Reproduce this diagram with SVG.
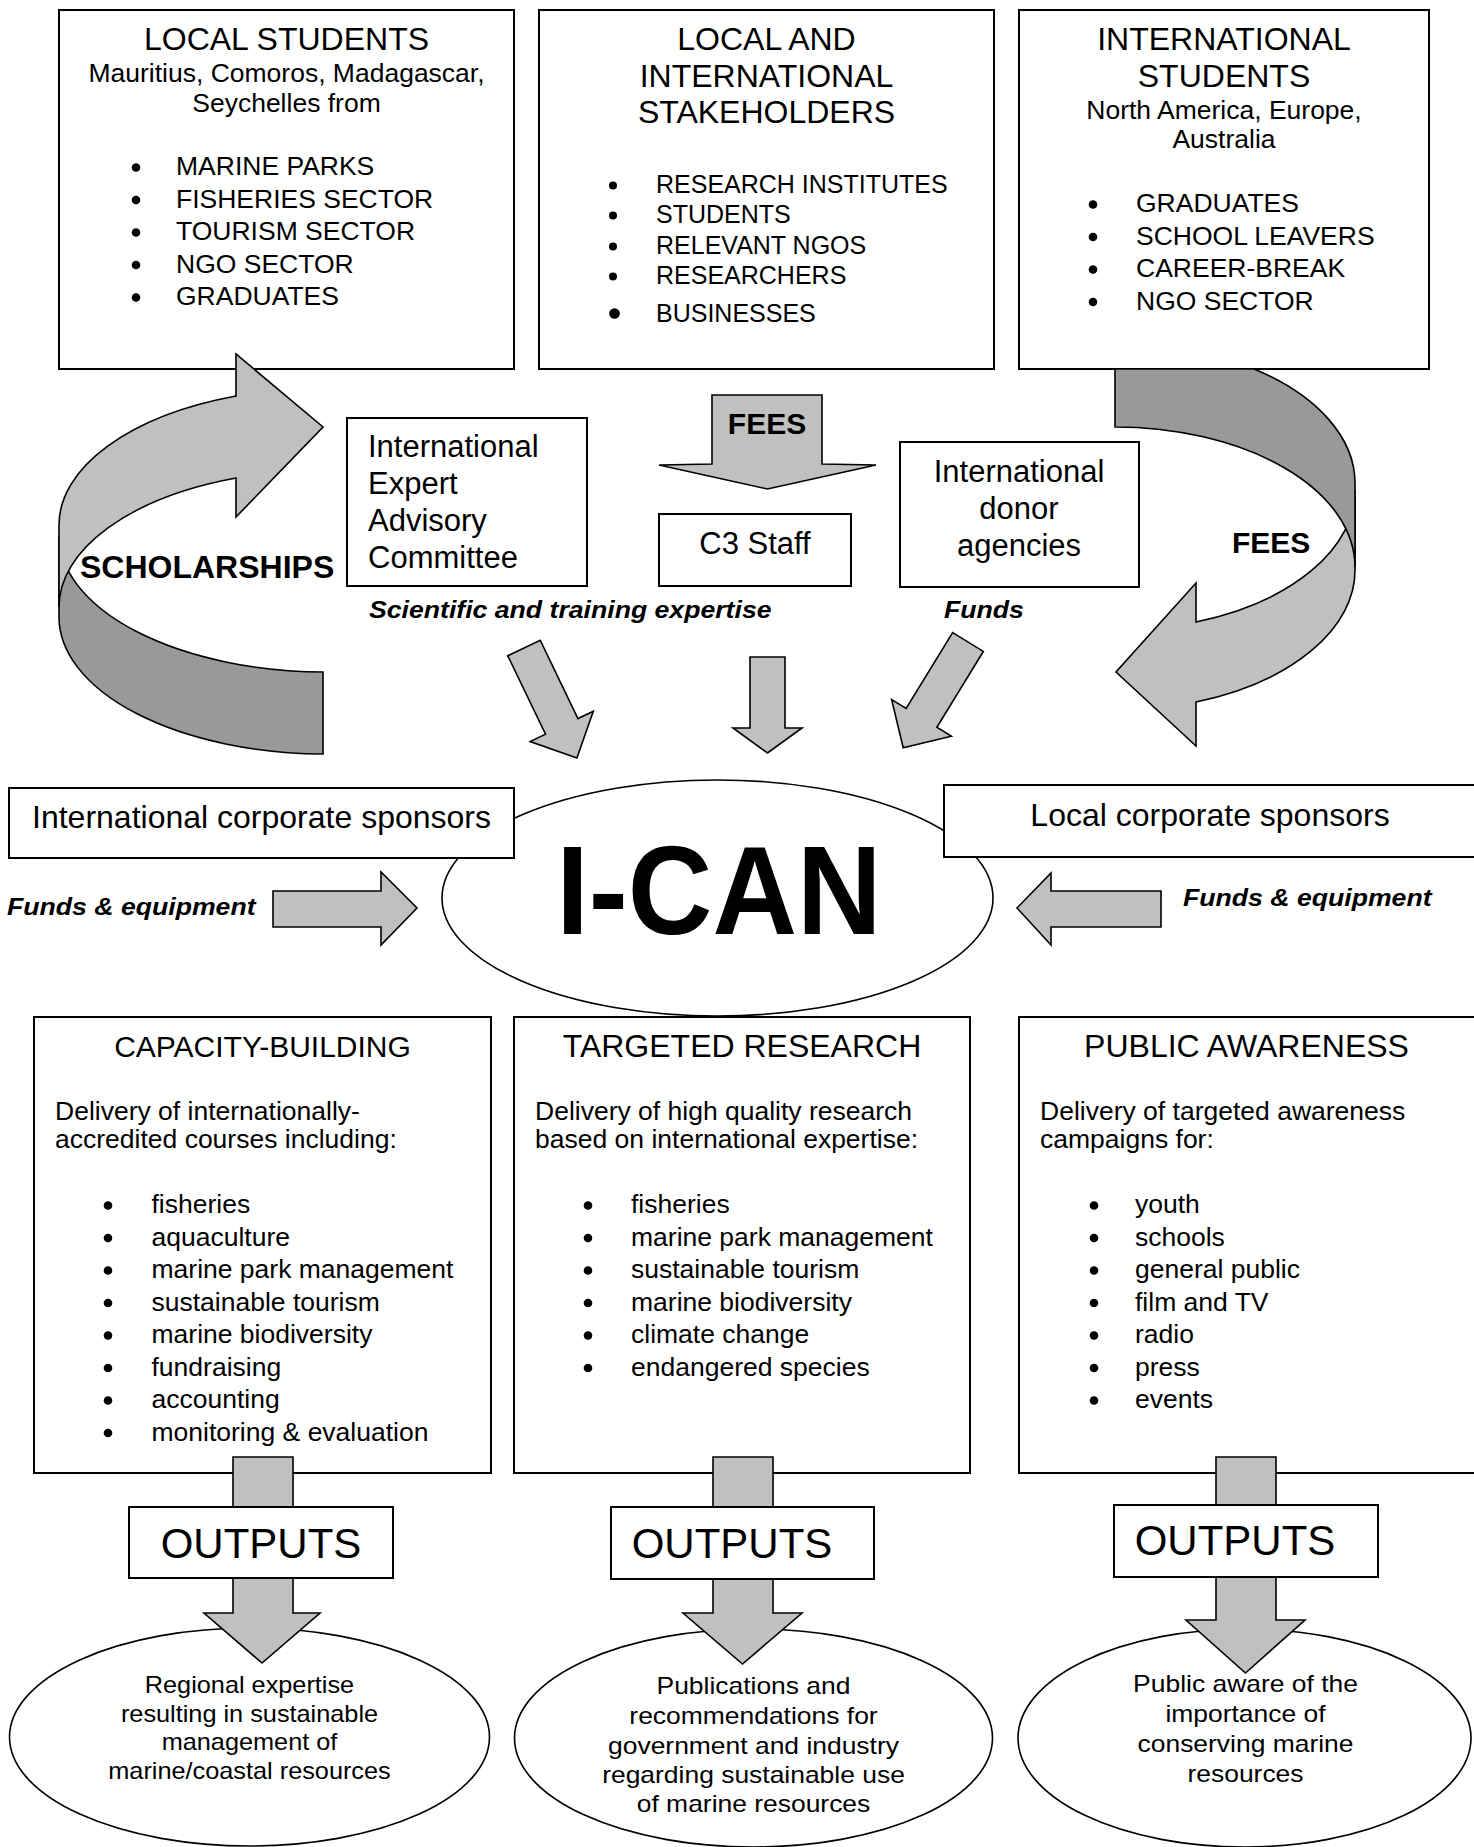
<svg xmlns="http://www.w3.org/2000/svg" width="1474" height="1847" viewBox="0 0 1474 1847">
<style>
text{font-family:"Liberation Sans",Arial,Helvetica,sans-serif;fill:#000}
.box{fill:#fff;stroke:#000;stroke-width:2}
.ell{fill:#fff;stroke:#000;stroke-width:1.6}
.lt{fill:#c0c0c0;stroke:#000;stroke-width:1.6;stroke-linejoin:miter}
.dk{fill:#999;stroke:#000;stroke-width:1.6;stroke-linejoin:miter}
.dot{fill:#000}
.h32{font-size:32px}
.h30{font-size:30px}
.s26{font-size:26.5px}
.b25{font-size:25px}
.t31{font-size:31px}
.sp{font-size:32px}
.bold{font-weight:bold}
.bi{font-weight:bold;font-style:italic;font-size:24px}
.mid{text-anchor:middle}
.et{font-size:23px;text-anchor:middle}
.out{font-size:42px;text-anchor:middle}
</style>
<rect x="0" y="0" width="1474" height="1847" fill="#fff"/>

<g id="local-students">
<rect class="box" x="59" y="10" width="455" height="359"/>
<text class="h32 mid" x="286.5" y="50">LOCAL STUDENTS</text>
<text class="s26 mid" x="286.5" y="82">Mauritius, Comoros, Madagascar,</text>
<text class="s26 mid" x="286.5" y="112">Seychelles from</text>
<circle class="dot" cx="136" cy="167.5" r="4.3"/><text class="s26" x="176" y="175">MARINE PARKS</text>
<circle class="dot" cx="136" cy="200" r="4.3"/><text class="s26" x="176" y="207.5">FISHERIES SECTOR</text>
<circle class="dot" cx="136" cy="232.5" r="4.3"/><text class="s26" x="176" y="240">TOURISM SECTOR</text>
<circle class="dot" cx="136" cy="265" r="4.3"/><text class="s26" x="176" y="272.5">NGO SECTOR</text>
<circle class="dot" cx="136" cy="297.5" r="4.3"/><text class="s26" x="176" y="305">GRADUATES</text>
</g>

<g id="stakeholders">
<rect class="box" x="539" y="10" width="455" height="359"/>
<text class="h32 mid" x="766.5" y="50">LOCAL AND</text>
<text class="h32 mid" x="766.5" y="87">INTERNATIONAL</text>
<text class="h32 mid" x="766.5" y="123">STAKEHOLDERS</text>
<circle class="dot" cx="613" cy="185.5" r="4"/><text class="b25" x="656" y="193">RESEARCH INSTITUTES</text>
<circle class="dot" cx="613" cy="215.5" r="4"/><text class="b25" x="656" y="223">STUDENTS</text>
<circle class="dot" cx="613" cy="246.5" r="4"/><text class="b25" x="656" y="254">RELEVANT NGOS</text>
<circle class="dot" cx="613" cy="276.5" r="4"/><text class="b25" x="656" y="284">RESEARCHERS</text>
<circle class="dot" cx="614.5" cy="313.5" r="5.3"/><text class="b25" x="656" y="322">BUSINESSES</text>
</g>

<g id="intl-students">
<rect class="box" x="1019" y="10" width="410" height="359"/>
<text class="h32 mid" x="1224" y="50">INTERNATIONAL</text>
<text class="h32 mid" x="1224" y="87">STUDENTS</text>
<text class="s26 mid" x="1224" y="119">North America, Europe,</text>
<text class="s26 mid" x="1224" y="148">Australia</text>
<circle class="dot" cx="1093" cy="204.5" r="4.3"/><text class="s26" x="1136" y="212">GRADUATES</text>
<circle class="dot" cx="1093" cy="237" r="4.3"/><text class="s26" x="1136" y="244.5">SCHOOL LEAVERS</text>
<circle class="dot" cx="1093" cy="269.5" r="4.3"/><text class="s26" x="1136" y="277">CAREER-BREAK</text>
<circle class="dot" cx="1093" cy="302" r="4.3"/><text class="s26" x="1136" y="309.5">NGO SECTOR</text>
</g>

<g id="advisory">
<rect class="box" x="347" y="418" width="240" height="168"/>
<text class="t31" x="368" y="457">International</text>
<text class="t31" x="368" y="494">Expert</text>
<text class="t31" x="368" y="531">Advisory</text>
<text class="t31" x="368" y="568">Committee</text>
</g>

<g id="c3-staff">
<rect class="box" x="659" y="514" width="192" height="72"/>
<text class="t31 mid" x="755" y="554">C3 Staff</text>
</g>

<g id="donors">
<rect class="box" x="900" y="442" width="239" height="145"/>
<text class="t31 mid" x="1019" y="482">International</text>
<text class="t31 mid" x="1019" y="519">donor</text>
<text class="t31 mid" x="1019" y="556">agencies</text>
</g>

<g id="ican">
<ellipse class="ell" cx="717.5" cy="898" rx="275.5" ry="118"/>
<text class="bold mid" font-size="126" transform="translate(719,934) scale(0.93,1)">I-CAN</text>
</g>

<g id="intl-sponsors">
<rect class="box" x="9" y="788" width="505" height="70"/>
<text class="sp mid" x="261.5" y="828">International corporate sponsors</text>
</g>

<g id="local-sponsors">
<rect class="box" x="944" y="785" width="540" height="72"/>
<text class="sp mid" x="1210" y="825.5">Local corporate sponsors</text>
</g>

<g id="capacity">
<rect class="box" x="34" y="1017" width="457" height="456"/>
<text class="h30 mid" x="262.5" y="1057">CAPACITY-BUILDING</text>
<text class="s26" x="55" y="1120">Delivery of internationally-</text>
<text class="s26" x="55" y="1148">accredited courses including:</text>
<circle class="dot" cx="108" cy="1205.5" r="4.3"/><text class="s26" x="151.5" y="1213">fisheries</text>
<circle class="dot" cx="108" cy="1238" r="4.3"/><text class="s26" x="151.5" y="1245.5">aquaculture</text>
<circle class="dot" cx="108" cy="1270.5" r="4.3"/><text class="s26" x="151.5" y="1278">marine park management</text>
<circle class="dot" cx="108" cy="1303" r="4.3"/><text class="s26" x="151.5" y="1310.5">sustainable tourism</text>
<circle class="dot" cx="108" cy="1335.5" r="4.3"/><text class="s26" x="151.5" y="1343">marine biodiversity</text>
<circle class="dot" cx="108" cy="1368" r="4.3"/><text class="s26" x="151.5" y="1375.5">fundraising</text>
<circle class="dot" cx="108" cy="1400.5" r="4.3"/><text class="s26" x="151.5" y="1408">accounting</text>
<circle class="dot" cx="108" cy="1433" r="4.3"/><text class="s26" x="151.5" y="1440.5">monitoring &amp; evaluation</text>
</g>

<g id="research">
<rect class="box" x="514" y="1017" width="456" height="456"/>
<text class="h32 mid" x="742" y="1057">TARGETED RESEARCH</text>
<text class="s26" x="535" y="1120">Delivery of high quality research</text>
<text class="s26" x="535" y="1148">based on international expertise:</text>
<circle class="dot" cx="588" cy="1205.5" r="4.3"/><text class="s26" x="631" y="1213">fisheries</text>
<circle class="dot" cx="588" cy="1238" r="4.3"/><text class="s26" x="631" y="1245.5">marine park management</text>
<circle class="dot" cx="588" cy="1270.5" r="4.3"/><text class="s26" x="631" y="1278">sustainable tourism</text>
<circle class="dot" cx="588" cy="1303" r="4.3"/><text class="s26" x="631" y="1310.5">marine biodiversity</text>
<circle class="dot" cx="588" cy="1335.5" r="4.3"/><text class="s26" x="631" y="1343">climate change</text>
<circle class="dot" cx="588" cy="1368" r="4.3"/><text class="s26" x="631" y="1375.5">endangered species</text>
</g>

<g id="awareness">
<rect class="box" x="1019" y="1017" width="470" height="456"/>
<text class="h32 mid" x="1246.5" y="1057">PUBLIC AWARENESS</text>
<text class="s26" x="1040" y="1120">Delivery of targeted awareness</text>
<text class="s26" x="1040" y="1148">campaigns for:</text>
<circle class="dot" cx="1094" cy="1205.5" r="4.3"/><text class="s26" x="1135" y="1213">youth</text>
<circle class="dot" cx="1094" cy="1238" r="4.3"/><text class="s26" x="1135" y="1245.5">schools</text>
<circle class="dot" cx="1094" cy="1270.5" r="4.3"/><text class="s26" x="1135" y="1278">general public</text>
<circle class="dot" cx="1094" cy="1303" r="4.3"/><text class="s26" x="1135" y="1310.5">film and TV</text>
<circle class="dot" cx="1094" cy="1335.5" r="4.3"/><text class="s26" x="1135" y="1343">radio</text>
<circle class="dot" cx="1094" cy="1368" r="4.3"/><text class="s26" x="1135" y="1375.5">press</text>
<circle class="dot" cx="1094" cy="1400.5" r="4.3"/><text class="s26" x="1135" y="1408">events</text>
</g>

<g id="result-capacity">
<ellipse class="ell" cx="249.5" cy="1737" rx="240" ry="109"/>
<text class="et" transform="translate(249.5,1693) scale(1.1,1)">Regional expertise</text>
<text class="et" transform="translate(249.5,1722) scale(1.1,1)">resulting in sustainable</text>
<text class="et" transform="translate(249.5,1750) scale(1.1,1)">management of</text>
<text class="et" transform="translate(249.5,1779) scale(1.1,1)">marine/coastal resources</text>
</g>

<g id="result-research">
<ellipse class="ell" cx="753.5" cy="1738" rx="239" ry="109"/>
<text class="et" transform="translate(753.5,1694) scale(1.15,1)">Publications and</text>
<text class="et" transform="translate(753.5,1724) scale(1.15,1)">recommendations for</text>
<text class="et" transform="translate(753.5,1753.5) scale(1.15,1)">government and industry</text>
<text class="et" transform="translate(753.5,1783) scale(1.15,1)">regarding sustainable use</text>
<text class="et" transform="translate(753.5,1812) scale(1.15,1)">of marine resources</text>
</g>

<g id="result-awareness">
<ellipse class="ell" cx="1244.5" cy="1738" rx="226.5" ry="109"/>
<text class="et" transform="translate(1245.5,1692) scale(1.15,1)">Public aware of the</text>
<text class="et" transform="translate(1245.5,1722) scale(1.15,1)">importance of</text>
<text class="et" transform="translate(1245.5,1752) scale(1.15,1)">conserving marine</text>
<text class="et" transform="translate(1245.5,1782) scale(1.15,1)">resources</text>
</g>

<g id="connectors">
<path class="dk" d="M59,535 A267,137 0 0 0 323,672 L323,754 A267,137 0 0 1 59,617 Z"/>
<path class="lt" d="M236,396 A267,137 0 0 0 59,525 L59,607 A267,137 0 0 1 236,478 L236,517 L323,427 L236,354 Z"/>
<text class="bold" font-size="32" x="80" y="578">SCHOLARSHIPS</text>
<path class="lt" d="M1355,490 A240,140 0 0 1 1196,622 L1196,583 L1116,672 L1196,746 L1196,702 A240,140 0 0 0 1355,570 Z"/>
<path class="dk" d="M1115,369 L1254,369 A240,140 0 0 1 1355,483 L1355,567 A240,140 0 0 0 1115,427 Z"/>
<text class="bold" font-size="30" x="1232" y="553">FEES</text>
<polygon class="lt" points="712,395 822,395 822,464 876,465 767.5,489 659,465 712,464"/>
<text class="bold mid" font-size="30" x="767" y="434">FEES</text>
<text class="bi" transform="translate(369,618) scale(1.11,1)">Scientific and training expertise</text>
<text class="bi" transform="translate(944,618) scale(1.11,1)">Funds</text>
<polygon class="lt" transform="translate(524,648) rotate(-25.7)" points="-18,0 18,0 18,87 35,87 0,122 -35,87 -18,87"/>
<polygon class="lt" points="750,657 785,657 785,728 802,728 767.5,753 733,728 750,728"/>
<polygon class="lt" transform="translate(968,642) rotate(31.5)" points="-18,0 18,0 18,89 35,89 0,124 -35,89 -18,89"/>
<polygon class="lt" points="273,891 381,891 381,872 417,908 381,945 381,927 273,927"/>
<text class="bi" transform="translate(7,915) scale(1.11,1)">Funds &amp; equipment</text>
<polygon class="lt" points="1161,891 1051,891 1051,873 1017,908 1051,945 1051,927 1161,927"/>
<text class="bi" transform="translate(1183,906) scale(1.11,1)">Funds &amp; equipment</text>
<polygon class="lt" points="233,1457 293,1457 293,1507 233,1507"/>
<polygon class="lt" points="233,1578 293,1578 293,1613 320,1613 262,1663 204,1613 233,1613"/>
<polygon class="lt" points="713,1457 773,1457 773,1507 713,1507"/>
<polygon class="lt" points="713,1579 773,1579 773,1613 802,1613 742.5,1664 683,1613 713,1613"/>
<polygon class="lt" points="1216,1457 1276,1457 1276,1505 1216,1505"/>
<polygon class="lt" points="1216,1577 1276,1577 1276,1620 1305,1620 1245.5,1673 1186,1620 1216,1620"/>
</g>

<g id="outputs-capacity">
<rect class="box" x="129" y="1507" width="264" height="71"/>
<text class="out" x="261" y="1558">OUTPUTS</text>
</g>
<g id="outputs-research">
<rect class="box" x="611" y="1507" width="263" height="72"/>
<text class="out" x="732" y="1558">OUTPUTS</text>
</g>
<g id="outputs-awareness">
<rect class="box" x="1114" y="1505" width="264" height="72"/>
<text class="out" x="1235" y="1555">OUTPUTS</text>
</g>
</svg>
